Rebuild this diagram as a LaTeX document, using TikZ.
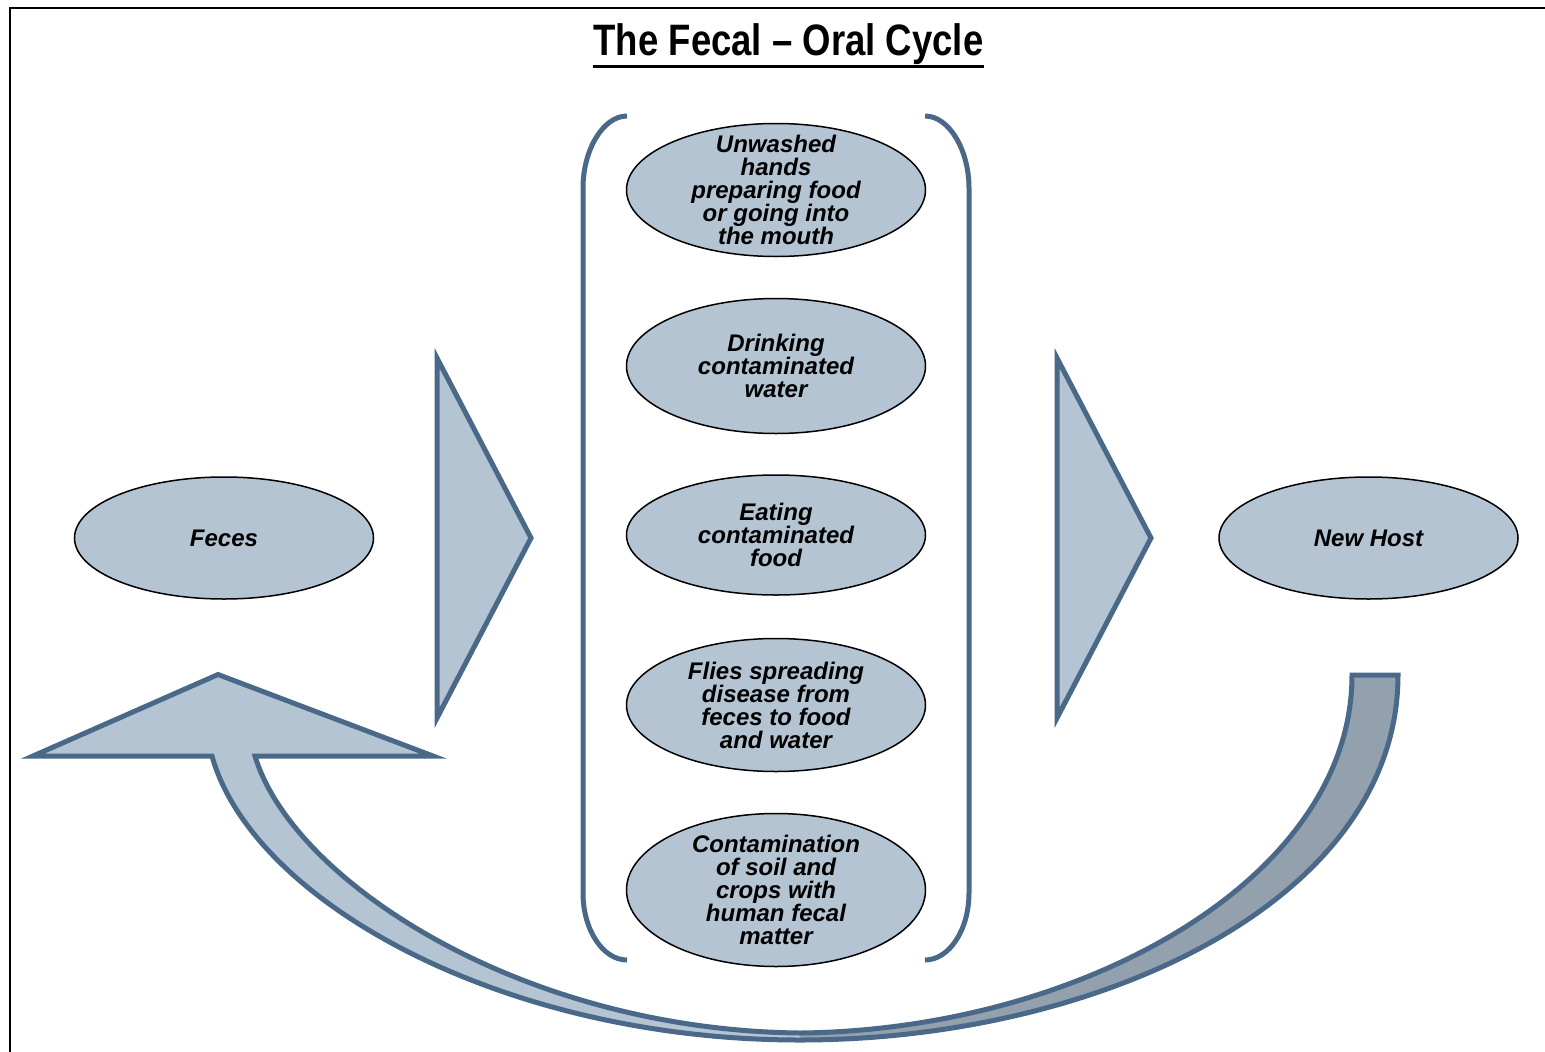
\documentclass[tikz,border=0pt]{standalone}
\usepackage{fontspec}
\setmainfont{Liberation Sans}
\newfontfamily\headfont[FakeStretch=0.83]{Liberation Sans}
\usepackage{tikz}
\usetikzlibrary{shapes.geometric, positioning}

\definecolor{paleblue}{RGB}{180,196,211}
\definecolor{slateline}{RGB}{74,104,135}
\definecolor{greyband}{RGB}{147,160,173}

\begin{document}
\begin{tikzpicture}[x=1pt, y=-1pt, line join=miter,
        blob/.style={draw=black, line width=1.5pt, fill=paleblue, ellipse,
                     minimum width=299pt, inner sep=0pt},
        txt/.style={font=\fontsize{24}{23}\selectfont\bfseries\itshape,
                    align=center, inner sep=0pt},
        wedge/.style={draw=slateline, fill=paleblue, line width=5pt},
        brace/.style={draw=slateline, line width=5pt}]
  \useasboundingbox (0,0) rectangle (1545,1052);
  % frame
  \draw[line width=2pt] (10,1052) -- (10,7.5) -- (1545,7.5);

  \node[anchor=base, inner sep=0pt, font=\headfont\fontsize{44}{44}\selectfont\bfseries]
    (title) at (788.5,55) {The Fecal – Oral Cycle};
  \draw[line width=3pt] ([yshift=-11.5pt]title.base west) -- ([yshift=-11.5pt]title.base east);

  % return ribbon, light and dark halves then one outline
  \fill[paleblue] (218,674.5) -- (433,756) -- (255,756)
    .. controls (292,880) and (520,1030) .. (800,1033) -- (800,1040)
    .. controls (500,1040) and (252,900) .. (212,756) -- (33,756) -- cycle;
  \fill[greyband] (800,1033) .. controls (1080,1030) and (1352,880) .. (1352,675)
    -- (1398,675) .. controls (1398,900) and (1100,1040) .. (800,1040) -- cycle;
  \draw[slateline, line width=5pt] (800,1033)
    .. controls (1080,1030) and (1352,880) .. (1352,675) -- (1398,675)
    .. controls (1398,900) and (1100,1040) .. (800,1040)
    .. controls (500,1040) and (252,900) .. (212,756) -- (33,756) -- (218,674.5)
    -- (433,756) -- (255,756) .. controls (292,880) and (520,1030) .. (800,1033) -- cycle;

  % big arrows
  \draw[wedge] (437,358) -- (531,538) -- (437,718) -- cycle;
  \draw[wedge] (1057,358) -- (1151,538) -- (1057,718) -- cycle;

  % brackets round the routes
  \draw[brace] (627,116) .. controls (603,116) and (583,150) .. (583,188) -- (583,893)
    .. controls (583,930) and (603,960) .. (627,960);
  \draw[brace] (925,116) .. controls (949,116) and (969,150) .. (969,188) -- (969,893)
    .. controls (969,930) and (949,960) .. (925,960);

  \node[blob, minimum height=122pt, label={[txt]center:Feces}] (feces) at (224,538) {};
  \node[blob, minimum height=122pt, label={[txt]center:New Host}] (host) at (1368.5,538) {};

  \node[blob, minimum height=133pt,
        label={[txt]center:Unwashed\\hands\\preparing food\\or going into\\the mouth}]
    (hands) at (776,190) {};
  \node[blob, minimum height=135pt,
        label={[txt]center:Drinking\\contaminated\\water}] (water) at (776,366) {};
  \node[blob, minimum height=120pt,
        label={[txt]center:Eating\\contaminated\\food}] (food) at (776,535) {};
  \node[blob, minimum height=133pt,
        label={[txt]center:Flies spreading\\disease from\\feces to food\\and water}]
    (flies) at (776,705) {};
  \node[blob, minimum height=153pt,
        label={[txt]center:Contamination\\of soil and\\crops with\\human fecal\\matter}]
    (soil) at (776,890) {};
\end{tikzpicture}
\end{document}
